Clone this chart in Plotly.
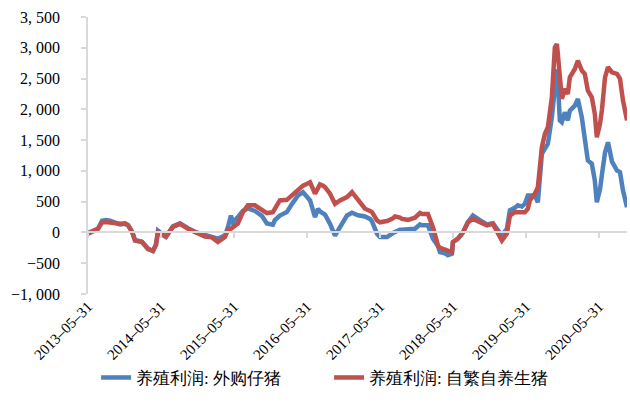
import plotly.graph_objects as go

dates = [
    "2013-05-31", "2013-07-05", "2013-07-20", "2013-08-09", "2013-08-29", "2013-09-18",
    "2013-10-13", "2013-11-07", "2013-12-02", "2013-12-17", "2014-01-06", "2014-01-21",
    "2014-02-25", "2014-03-27", "2014-04-21", "2014-05-06", "2014-05-16", "2014-06-05",
    "2014-06-25", "2014-07-30", "2014-09-03", "2014-10-13", "2014-11-17", "2015-01-06",
    "2015-02-10", "2015-03-12", "2015-04-16", "2015-05-01", "2015-05-16", "2015-05-26",
    "2015-06-20", "2015-07-15", "2015-08-09", "2015-09-13", "2015-10-18", "2015-11-12",
    "2015-12-12", "2015-12-22", "2016-01-16", "2016-02-20", "2016-03-17", "2016-04-16",
    "2016-05-11", "2016-05-31", "2016-06-15", "2016-07-10", "2016-07-25", "2016-08-04",
    "2016-08-19", "2016-08-29", "2016-09-23", "2016-10-18", "2016-11-12", "2016-12-17",
    "2017-01-11", "2017-02-10", "2017-03-17", "2017-04-11", "2017-04-21", "2017-05-06",
    "2017-05-16", "2017-05-31", "2017-07-05", "2017-08-04", "2017-08-14", "2017-09-08",
    "2017-09-18", "2017-10-18", "2017-11-22", "2017-12-17", "2017-12-27", "2018-01-26",
    "2018-02-20", "2018-03-17", "2018-03-27", "2018-04-21", "2018-05-06", "2018-05-26",
    "2018-05-31", "2018-06-25", "2018-07-20", "2018-08-14", "2018-09-08", "2018-10-13",
    "2018-11-17", "2018-12-17", "2019-01-11", "2019-01-31", "2019-02-25", "2019-03-12",
    "2019-04-06", "2019-04-21", "2019-05-11", "2019-05-26", "2019-06-10", "2019-06-20",
    "2019-07-15", "2019-07-30", "2019-08-19", "2019-09-03", "2019-09-18", "2019-10-08",
    "2019-10-23", "2019-11-02", "2019-11-07", "2019-11-17", "2019-11-27", "2019-12-12",
    "2019-12-27", "2020-01-06", "2020-01-31", "2020-02-15", "2020-03-06", "2020-03-21",
    "2020-04-05", "2020-04-25", "2020-05-10", "2020-05-20", "2020-06-05", "2020-06-15",
    "2020-06-30", "2020-07-15", "2020-08-04", "2020-08-29", "2020-09-13", "2020-09-28",
    "2020-10-18",
]

profit_purchased_piglet = [
    -10, 30, 60, 190, 200, 190,
    150, 130, 140, 120, 20, -120,
    -150, -260, -300, -200, 30, -30,
    -70, 100, 150, 70, 10, -40,
    -70, -100, -50, 85, 275, 165,
    250, 350, 390, 350, 270, 145,
    125, 200, 275, 330, 465, 600,
    655, 575, 520, 250, 385, 340,
    305, 290, 140, -50, 85, 275,
    320, 280, 260, 220, 180, 30,
    -20, -75, -75, -10, 10, 45,
    45, 45, 60, 130, 115, 115,
    -100, -220, -320, -340, -370, -345,
    -160, -100, 0, 165, 275, 200,
    130, 150, 20, -50, 60, 360,
    400, 440, 420, 465, 600, 600,
    600, 490, 1275, 1360, 1440, 1870,
    2400, 2650, 2450, 1820, 1790, 1950,
    1820, 1980, 2060, 2170, 1870, 1495,
    1170, 1115, 845, 490, 700, 950,
    1300, 1465, 1150, 1005, 980, 680,
    410,
]

profit_self_bred = [
    -20, 30, 60, 160, 170, 160,
    150, 140, 150, 120, 10, -130,
    -155, -270, -300, -200, 0, -40,
    -70, 90, 140, 60, 0, -65,
    -80, -155, -75, 40, 60, 90,
    145, 330, 440, 440, 360, 315,
    330, 385, 520, 530, 600, 700,
    760, 790, 815, 630, 720, 780,
    760, 735, 630, 465, 520, 575,
    655, 520, 385, 350, 330, 250,
    195, 165, 185, 230, 260, 240,
    220, 205, 240, 315, 300, 300,
    85, -210, -250, -280, -300, -320,
    -155, -100, 0, 165, 220, 165,
    115, 140, 0, -130, -20, 275,
    330, 330, 330, 330, 385, 520,
    630, 735, 1385, 1600, 1710, 2195,
    3005, 3060, 2900, 2470, 2170, 2330,
    2250, 2520, 2655, 2790, 2630, 2575,
    2305, 2195, 1925, 1545, 1765, 2000,
    2520, 2685, 2600, 2575, 2495, 2140,
    1820,
]

series_names = ["养殖利润: 外购仔猪", "养殖利润: 自繁自养生猪"]
series_colors = ["#4F81BD", "#C0504D"]

x_tick_vals = ["2013-05-31", "2014-05-31", "2015-05-31", "2016-05-31",
               "2017-05-31", "2018-05-31", "2019-05-31", "2020-05-31"]
x_tick_text = [d.replace("-", "–") for d in x_tick_vals]

y_tick_vals = [-1000, -500, 0, 500, 1000, 1500, 2000, 2500, 3000, 3500]
y_tick_text = ["−1, 000", "−500", "0", "500", "1, 000", "1, 500",
               "2, 000", "2, 500", "3, 000", "3, 500"]

x_range = ["2013-05-31", "2020-10-18"]
y_range = [-1000, 3500]

font_family = "Times New Roman, Liberation Serif, serif"
axis_grey = "#D9D9D9"

fig = go.Figure()
for name, color, vals in zip(series_names, series_colors,
                             [profit_purchased_piglet, profit_self_bred]):
    fig.add_trace(go.Scatter(
        x=dates, y=vals, name=name, mode="lines",
        line=dict(color=color, width=4.5),
    ))

# helper axis carrying the zero line with year tick marks
fig.add_trace(go.Scatter(
    x=x_range, y=[0, 0], xaxis="x2", mode="lines",
    line=dict(color="rgba(0,0,0,0)", width=0),
    showlegend=False, hoverinfo="skip",
))

zero_pos = (0 - y_range[0]) / (y_range[1] - y_range[0])

fig.update_layout(
    width=630, height=410,
    margin=dict(l=88, r=3, t=17, b=116, autoexpand=False),
    paper_bgcolor="white", plot_bgcolor="white",
    font=dict(family=font_family, size=16, color="#000000"),
    showlegend=True,
    legend=dict(
        orientation="h", x=0.015, xanchor="left", y=-0.238, yanchor="top",
        font=dict(family=font_family, size=17),
        entrywidth=188, entrywidthmode="pixels",
    ),
    xaxis=dict(
        type="date", range=x_range, automargin=False,
        tickmode="array", tickvals=x_tick_vals, ticktext=x_tick_text,
        tickangle=-45, showgrid=False, showline=False, ticks="",
        zeroline=False, tickfont=dict(size=15),
    ),
    xaxis2=dict(
        type="date", range=x_range, overlaying="x", anchor="free",
        position=zero_pos, side="bottom", automargin=False,
        tickmode="array", tickvals=x_tick_vals, showticklabels=False,
        showline=True, linecolor=axis_grey, linewidth=1.5,
        ticks="outside", ticklen=5, tickcolor=axis_grey, tickwidth=1.5,
        showgrid=False, zeroline=False,
    ),
    yaxis=dict(
        range=y_range, tickmode="array", tickvals=y_tick_vals, ticktext=y_tick_text,
        showgrid=False, zeroline=False, automargin=False,
        showline=True, linecolor=axis_grey, linewidth=1.5,
        ticks="outside", ticklen=5, tickcolor=axis_grey, tickwidth=1.5,
        ticklabelstandoff=18,
    ),
)

fig.write_html(
    "out.html",
    config={"displayModeBar": False},
    post_script="document.body.style.margin='0';document.body.style.padding='0';",
)
